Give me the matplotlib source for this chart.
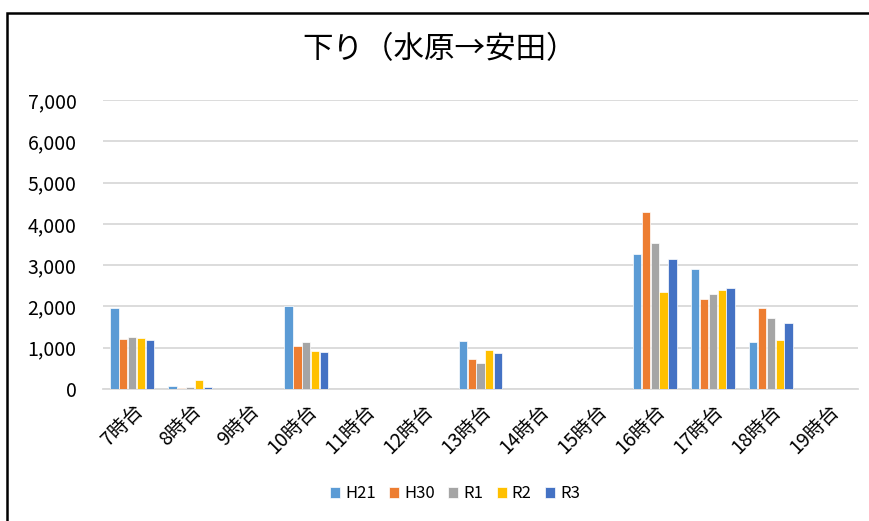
import matplotlib

matplotlib.use("Agg")
import numpy as np
from matplotlib import pyplot as plt
from matplotlib.patches import Rectangle

plt.rcParams["font.family"] = ["Noto Sans CJK JP", "DejaVu Sans"]

TITLE = "下り（水原→安田）"
hours = ["7時台", "8時台", "9時台", "10時台", "11時台", "12時台", "13時台",
         "14時台", "15時台", "16時台", "17時台", "18時台", "19時台"]
series_names = ["H21", "H30", "R1", "R2", "R3"]
h21 = [1950, 65, 0, 2000, 0, 0, 1160, 0, 0, 3270, 2900, 1130, 0]
h30 = [1200, 30, 0, 1040, 0, 0, 720, 0, 0, 4290, 2170, 1960, 0]
r1 = [1255, 55, 0, 1140, 0, 0, 620, 0, 0, 3530, 2290, 1710, 0]
r2 = [1235, 210, 0, 925, 0, 0, 935, 0, 0, 2340, 2410, 1190, 0]
r3 = [1175, 48, 0, 900, 0, 0, 870, 0, 0, 3150, 2440, 1590, 0]
colors = ["#5B9BD5", "#ED7D31", "#A5A5A5", "#FFC000", "#4472C4"]

fig = plt.figure(figsize=(8.7, 5.21), dpi=100)
ax = fig.add_axes([103 / 870, 1 - 389 / 521, 755 / 870, 289 / 521])

x = np.arange(len(hours))
step = 0.152
width = 0.142
for i, (name, vals) in enumerate(zip(series_names, [h21, h30, r1, r2, r3])):
    ax.bar(x + (i - 2) * step, vals, width=width, color=colors[i],
           edgecolor="white", linewidth=0.5, label=name, zorder=3)

ax.set_xlim(-0.5, len(hours) - 0.5)
ax.set_ylim(0, 7000)
ax.set_yticks(range(0, 7001, 1000))
ax.set_yticklabels([f"{v:,}" for v in range(0, 7001, 1000)], fontsize=14)
ax.set_xticks(x)
ax.set_xticklabels(hours, rotation=45, ha="right", rotation_mode="anchor", fontsize=14)
ax.tick_params(axis="x", length=0, pad=8)
ax.tick_params(axis="y", length=0, pad=19)
ax.grid(axis="y", color="#D9D9D9", linewidth=1.3, zorder=0)
for s in ["top", "right", "left"]:
    ax.spines[s].set_visible(False)
ax.spines["bottom"].set_color("#D9D9D9")
ax.spines["bottom"].set_linewidth(1.3)

fig.text(440 / 870, 1 - 50 / 521, TITLE, ha="center", va="center", fontsize=22)

handles, labels = ax.get_legend_handles_labels()
fig.legend(handles, labels, loc="center", bbox_to_anchor=(455 / 870, 1 - 494 / 521),
           ncol=5, frameon=False, fontsize=12, handlelength=0.6, handleheight=0.6,
           handletextpad=0.3, columnspacing=0.8)

fig.patches.append(Rectangle((7 / 870, -0.1), 1.2, 1 - 13 / 521 + 0.1,
                             transform=fig.transFigure, fill=False,
                             edgecolor="black", linewidth=1.8, zorder=10))

fig.savefig("out.png", dpi=100)
